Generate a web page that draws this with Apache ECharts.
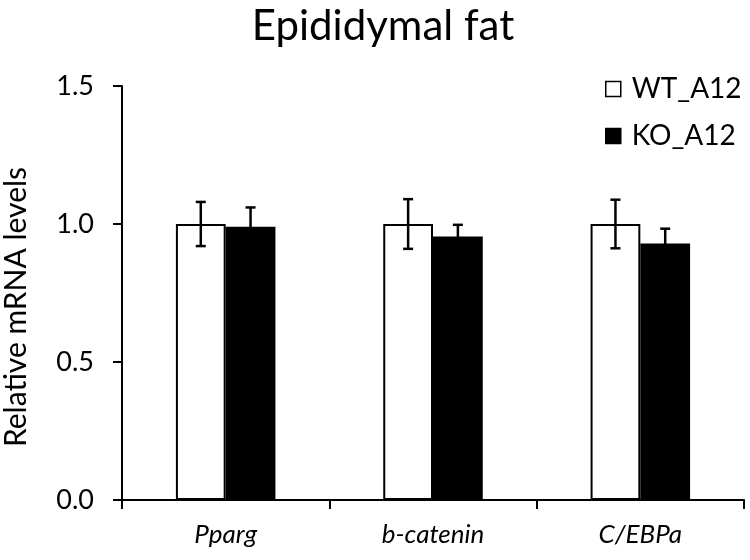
<!DOCTYPE html>
<html><head><meta charset="utf-8">
<script src="https://cdn.jsdelivr.net/npm/echarts@6/dist/echarts.min.js"></script>
<style>html,body{margin:0;padding:0;background:#fff}#c{width:750px;height:560px}</style>
</head><body><div id="c"></div>
<script>
const categories = ['Pparg', 'b-catenin', 'C/EBPa'];
const seriesNames = ['WT_A12', 'KO_A12'];
const wtValues = [1.0, 1.0, 1.0];
const wtErrors = [0.08, 0.09, 0.088];
const koValues = [0.99, 0.955, 0.929];
const koErrors = [0.07, 0.042, 0.054];
const yTicks = [0, 0.5, 1.0, 1.5];

const FONT = 'Lato, "Open Sans", sans-serif';
const chart = echarts.init(document.getElementById('c'));

function errSeries(values, errors, offsetSign) {
  return {
    type: 'custom',
    z: 10,
    silent: true,
    data: values.map((v, i) => [i, v, errors[i]]),
    renderItem: function (params, api) {
      const i = api.value(0), v = api.value(1), e = api.value(2);
      const band = api.size([1, 0])[0];
      const bw = band * 0.24;
      const cx = api.coord([i, v])[0] + offsetSign * bw / 2;
      const top = api.coord([i, v + e])[1];
      const bot = api.coord([i, v - e])[1];
      const cap = 5;
      const st = { stroke: '#000', lineWidth: 2.5 };
      return { type: 'group', children: [
        { type: 'line', shape: { x1: cx, y1: top, x2: cx, y2: bot }, style: st },
        { type: 'line', shape: { x1: cx - cap, y1: top, x2: cx + cap, y2: top }, style: st },
        { type: 'line', shape: { x1: cx - cap, y1: bot, x2: cx + cap, y2: bot }, style: st }
      ]};
    }
  };
}

chart.setOption({
  animation: false,
  backgroundColor: '#fff',
  title: {
    text: 'Epididymal fat', left: 378, top: 0, textAlign: 'center',
    textStyle: { fontFamily: FONT, fontSize: 42, fontWeight: 'normal', color: '#000' }
  },
  legend: {
    orient: 'vertical', left: 600, top: 70, itemWidth: 15, itemHeight: 15, itemGap: 19,
    icon: 'rect',
    textStyle: { fontFamily: FONT, fontSize: 28, color: '#000', padding: [0, 0, 0, 6] },
    data: [
      { name: seriesNames[0], itemStyle: { color: '#fff', borderColor: '#000', borderWidth: 1.5 } },
      { name: seriesNames[1], itemStyle: { color: '#000', borderColor: '#000', borderWidth: 1.5 } }
    ]
  },
  grid: { left: 122, right: 6, top: 86, bottom: 60, containLabel: false, outerBoundsMode: 'none' },
  xAxis: {
    type: 'category', data: categories,
    axisLine: { lineStyle: { color: '#000', width: 2 } },
    axisTick: { show: true, length: 9, lineStyle: { color: '#000', width: 2 } },
    axisLabel: { fontFamily: FONT, fontSize: 26, fontStyle: 'italic', color: '#000', margin: 22 }
  },
  yAxis: {
    type: 'value', min: 0, max: 1.5, interval: 0.5,
    name: 'Relative mRNA levels', nameLocation: 'middle', nameGap: 91,
    nameTextStyle: { fontFamily: FONT, fontSize: 30, color: '#000', padding: [0, 28, 0, 0] },
    axisLine: { show: true, lineStyle: { color: '#000', width: 2 } },
    axisTick: { show: true, length: 9, lineStyle: { color: '#000', width: 2 } },
    splitLine: { show: false },
    axisLabel: { fontFamily: FONT, fontSize: 27, color: '#000', margin: 28,
      formatter: v => yTicks.includes(v) ? v.toFixed(1) : '' }
  },
  series: [
    { name: seriesNames[0], type: 'bar', data: wtValues, barWidth: '24%', barGap: '0%',
      itemStyle: { color: '#fff', borderColor: '#000', borderWidth: 2 } },
    { name: seriesNames[1], type: 'bar', data: koValues, barWidth: '24%', barGap: '0%',
      itemStyle: { color: '#000', borderColor: '#000', borderWidth: 2 } },
    errSeries(wtValues, wtErrors, -1),
    errSeries(koValues, koErrors, 1)
  ]
});
</script></body></html>
